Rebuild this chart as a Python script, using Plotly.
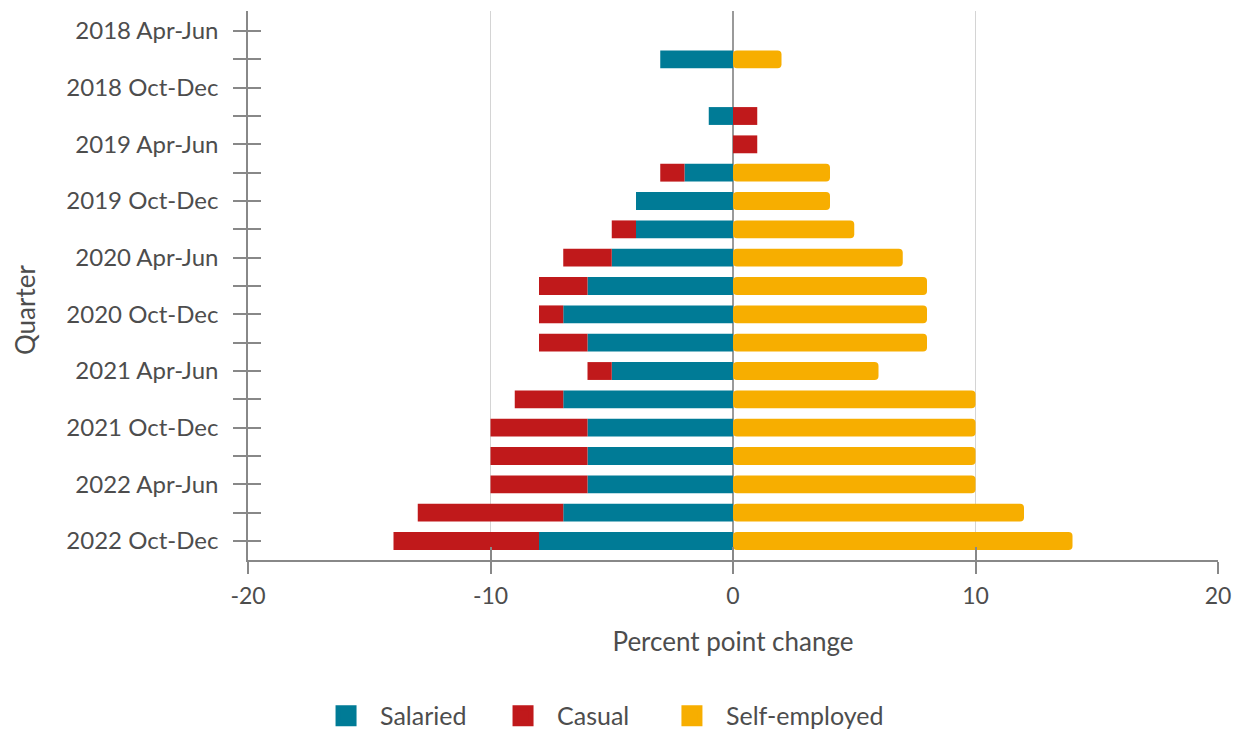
import plotly.graph_objects as go

quarters = ["2018 Apr-Jun", "2018 Jul-Sep", "2018 Oct-Dec", "2019 Jan-Mar", "2019 Apr-Jun",
            "2019 Jul-Sep", "2019 Oct-Dec", "2020 Jan-Mar", "2020 Apr-Jun", "2020 Jul-Sep",
            "2020 Oct-Dec", "2021 Jan-Mar", "2021 Apr-Jun", "2021 Jul-Sep", "2021 Oct-Dec",
            "2022 Jan-Mar", "2022 Apr-Jun", "2022 Jul-Sep", "2022 Oct-Dec"]
salaried = [0, -3, 0, -1, 0, -2, -4, -4, -5, -6, -7, -6, -5, -7, -6, -6, -6, -7, -8]
casual = [0, 0, 0, 1, 1, -1, 0, -1, -2, -2, -1, -2, -1, -2, -4, -4, -4, -6, -6]
self_employed = [0, 2, 0, 0, 0, 4, 4, 5, 7, 8, 8, 8, 6, 10, 10, 10, 10, 12, 14]
x_ticks = [-20, -10, 0, 10, 20]
x_ticktext = ["-20", "-10", "0", "10", "20"]

names = ["Salaried", "Casual", "Self-employed"]
colors = ["#007b96", "#c0191b", "#f7ae00"]
legend_ids = ["legend", "legend2", "legend3"]
legend_x = [0.2484, 0.3930, 0.5310]

# stacking bases (relative stacking, computed from the data)
base_sal = [0] * len(quarters)
base_cas = [min(s, 0) if c < 0 else max(s, 0) for s, c in zip(salaried, casual)]
base_self = [max(s, 0) + max(c, 0) for s, c in zip(salaried, casual)]

ticktext = [q if i % 2 == 0 else "" for i, q in enumerate(quarters)]

FONT = "Lato"
TXT = "#4d4d4d"
AX = "#888888"

fig = go.Figure()
for vals, base, name, col, rad in [(salaried, base_sal, names[0], colors[0], 0),
                                   (casual, base_cas, names[1], colors[1], 0),
                                   (self_employed, base_self, names[2], colors[2], 4)]:
    fig.add_trace(go.Bar(x=vals, y=quarters, base=base, orientation="h", name=name,
                         marker=dict(color=col, line=dict(width=0), cornerradius=rad),
                         width=0.63, showlegend=False))

# legend proxies (larger squares), one legend each for exact placement
for name, col, lid in zip(names, colors, legend_ids):
    fig.add_trace(go.Scatter(x=[None], y=[None], mode="markers", name=name, legend=lid,
                             marker=dict(symbol="square", size=16, color=col,
                                         line=dict(width=6, color=col))))

# invisible trace for the overlay axes (crossing ticks)
fig.add_trace(go.Scatter(x=self_employed, y=quarters, xaxis="x2", yaxis="y2", mode="markers",
                         marker=dict(opacity=0), showlegend=False, hoverinfo="skip"))

yrange = [18.67, -0.706]
legend_common = dict(orientation="h", xref="container", xanchor="left",
                     yref="container", y=0.0194, yanchor="middle",
                     font=dict(size=25, color=TXT), itemwidth=58, itemclick=False,
                     bgcolor="rgba(0,0,0,0)")
fig.update_layout(
    width=1224, height=722,
    barmode="overlay",
    plot_bgcolor="white", paper_bgcolor="white",
    margin=dict(l=240, r=14, t=3, b=170),
    font=dict(family=FONT, color=TXT, size=24),
    xaxis=dict(range=[-20, 20], tickvals=x_ticks, ticktext=x_ticktext, ticks="outside",
               ticklen=12, tickwidth=1.5, ticklabeloverflow="allow", automargin=False,
               tickcolor=AX, showline=True, linecolor=AX, linewidth=1.5,
               showgrid=True, gridcolor="#d4d4d4", gridwidth=1,
               zeroline=True, zerolinecolor="#9a9a9a", zerolinewidth=1.5,
               tickfont=dict(size=23, color=TXT), ticklabelstandoff=3,
               title=dict(text="Percent point change", font=dict(size=26, color=TXT), standoff=24)),
    xaxis2=dict(range=[-20, 20], tickvals=x_ticks, ticks="inside", ticklen=13, tickwidth=1.5,
                tickcolor=AX, overlaying="x", anchor="y2", side="bottom", showticklabels=False,
                showgrid=False, zeroline=False, showline=False, automargin=False),
    yaxis=dict(type="category", categoryorder="array", categoryarray=quarters, range=yrange,
               tickvals=quarters, ticktext=ticktext, ticks="outside", ticklen=13, tickwidth=1.5,
               tickcolor=AX, showline=True, linecolor=AX, linewidth=1.5, showgrid=False,
               tickfont=dict(size=24, color=TXT), ticklabelstandoff=10),
    yaxis2=dict(type="category", categoryorder="array", categoryarray=quarters, range=yrange,
                tickvals=quarters, ticks="inside", ticklen=13, tickwidth=1.5, tickcolor=AX,
                overlaying="y", anchor="x", side="left", showticklabels=False,
                showgrid=False, zeroline=False, showline=False),
    legend=dict(x=legend_x[0], **legend_common),
    legend2=dict(x=legend_x[1], **legend_common),
    legend3=dict(x=legend_x[2], **legend_common),
    annotations=[dict(text="Quarter", textangle=-90, xref="paper", yref="paper",
                      x=-0.2300, y=0.455, xanchor="center", yanchor="middle", showarrow=False,
                      font=dict(size=26, color=TXT))],
)

fig.write_html("out.html")
